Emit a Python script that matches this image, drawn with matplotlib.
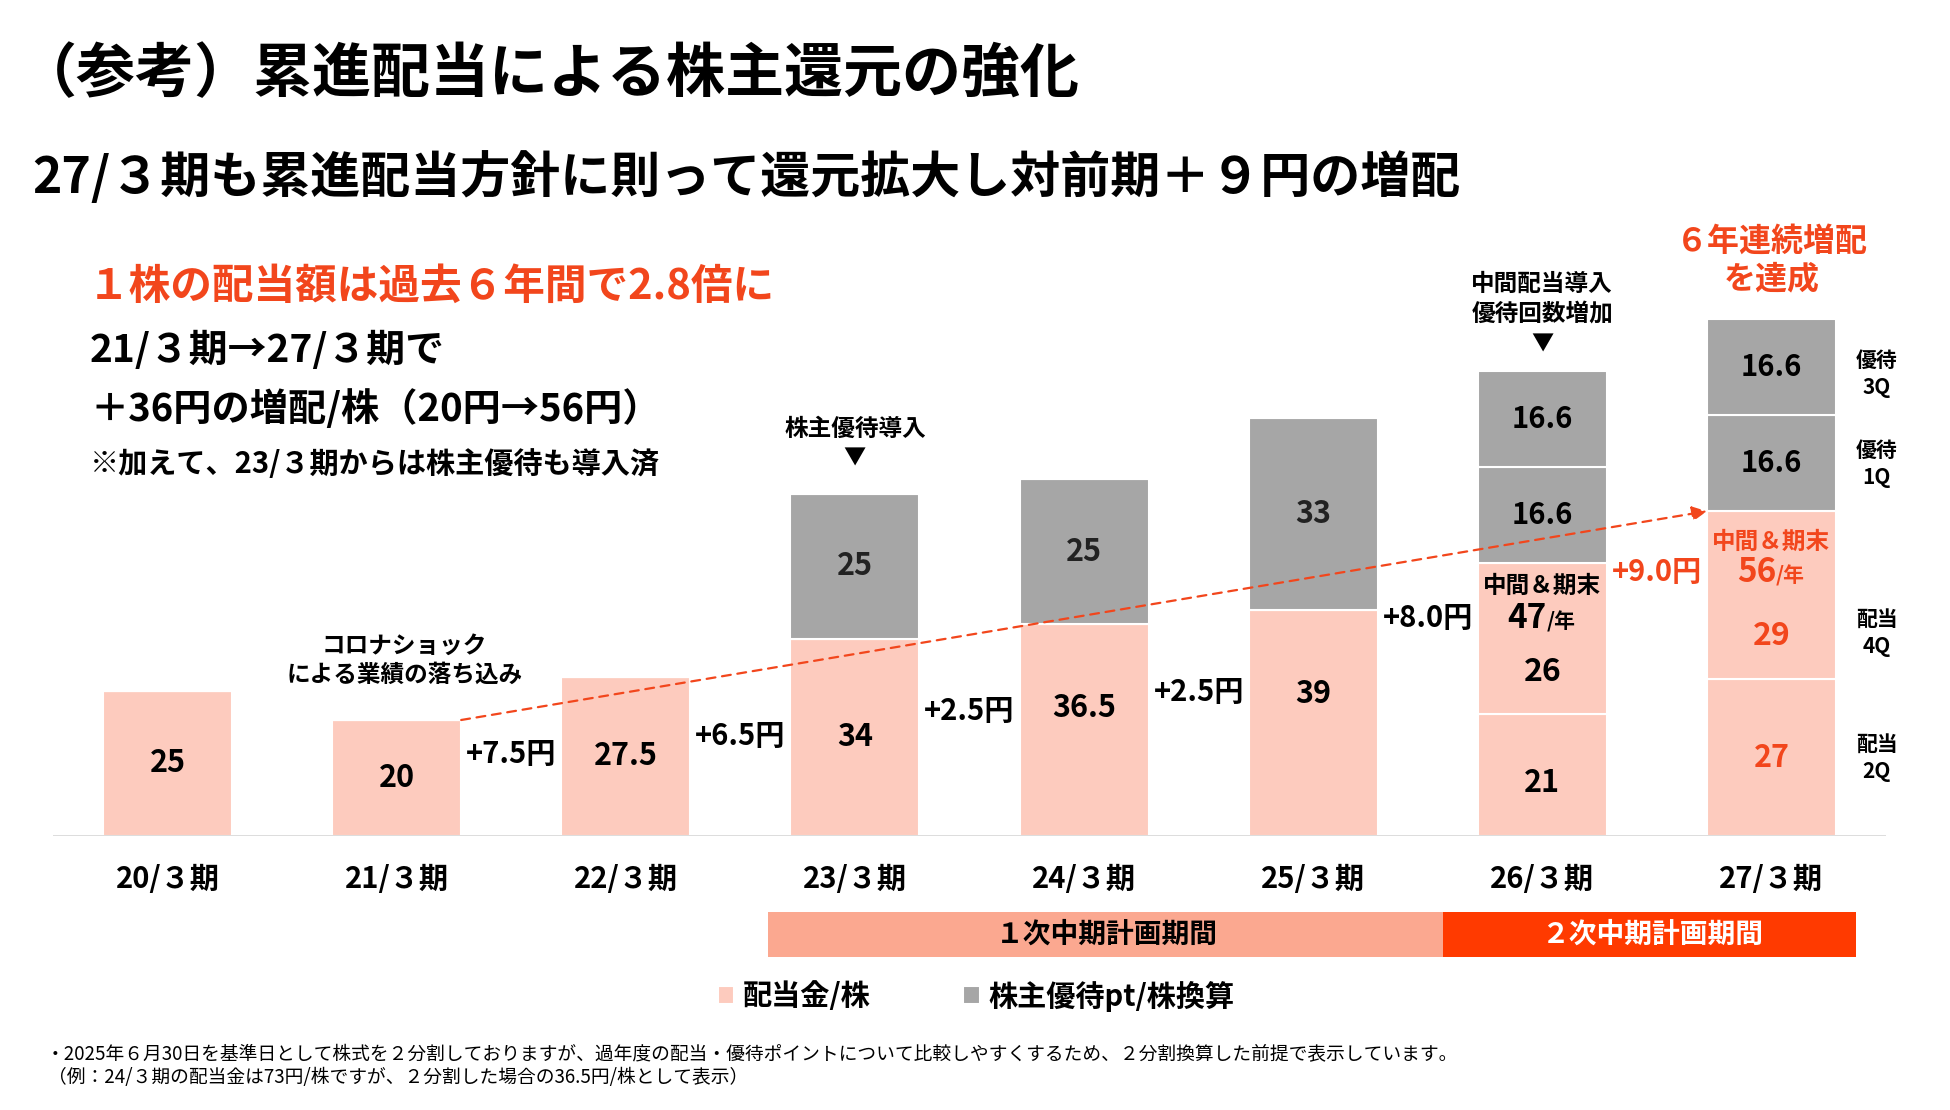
import matplotlib
matplotlib.use("Agg")
import matplotlib.pyplot as plt
from matplotlib.patches import Rectangle
import numpy as np

plt.rcParams['font.family'] = ['Noto Sans CJK JP', 'DejaVu Sans']
plt.rcParams['font.weight'] = 'bold'

# ---- data (円/株, 2分割換算) ----
periods = ["20/３期", "21/３期", "22/３期", "23/３期", "24/３期", "25/３期", "26/３期", "27/３期"]
div_2q = np.array([25, 20, 27.5, 34, 36.5, 39, 21, 27])   # 通期 (〜25/3) / 中間
div_4q = np.array([0, 0, 0, 0, 0, 0, 26, 29])             # 期末
yutai_1 = np.array([0, 0, 0, 25, 25, 33, 16.6, 16.6])
yutai_2 = np.array([0, 0, 0, 0, 0, 0, 16.6, 16.6])
div_total = div_2q + div_4q

PINK = "#FDCBBE"
GRAY = "#A6A6A6"
RED = "#F2461C"
BAND1 = "#FBA890"
BAND2 = "#FF3A00"

W, H = 1950, 1110
def fx(p): return p / W
def fy(p): return 1 - p / H

fig = plt.figure(figsize=(19.5, 11.1), dpi=100)
ax = fig.add_axes([53 / W, (H - 836) / H, 1833 / W, 640 / H])

x = np.arange(len(periods))
bw = 0.563
kw = dict(width=bw, edgecolor="white", linewidth=1.5)
ax.bar(x, div_2q, color=PINK, label="配当金/株", **kw)
ax.bar(x, div_4q, bottom=div_2q, color=PINK, **kw)
ax.bar(x, yutai_1, bottom=div_total, color=GRAY, label="株主優待pt/株換算", **kw)
ax.bar(x, yutai_2, bottom=div_total + yutai_1, color=GRAY, **kw)
ax.axhline(0, color="#D9D9D9", lw=2, zorder=5)

ax.set_xlim(-0.5, 7.5)
ax.set_ylim(0, 640 / 5.8)
for s in ax.spines.values():
    s.set_visible(False)
ax.set_yticks([])
ax.set_xticks(x, periods, fontsize=21, fontweight='bold')
ax.tick_params(axis='x', length=0, pad=20)

# ---- labels inside bars ----
lbl_2q_y = [12.5, 10, 13.75, 17, 22.1, 24.4, 9.2, 13.5]
for i in range(len(x)):
    c = RED if i == 7 else "black"
    ax.text(x[i], lbl_2q_y[i], f"{div_2q[i]:g}", ha='center', va='center', fontsize=22, color=c)
for i, yy in [(6, 28.3), (7, 34.4)]:
    c = RED if i == 7 else "black"
    ax.text(x[i], yy, f"{div_4q[i]:g}", ha='center', va='center', fontsize=23, color=c)
for i in range(len(x)):
    if yutai_1[i] > 0:
        ax.text(x[i], div_total[i] + yutai_1[i] / 2, f"{yutai_1[i]:g}", ha='center', va='center',
                fontsize=22 if yutai_2[i] == 0 else 21, color="#222222" if yutai_2[i] == 0 else "black")
    if yutai_2[i] > 0:
        ax.text(x[i], div_total[i] + yutai_1[i] + yutai_2[i] / 2, f"{yutai_2[i]:g}",
                ha='center', va='center', fontsize=21)

# 中間＆期末 totals
for i, yy_head, yy_val in [(6, 43.2, 37.5), (7, 50.7, 45.4)]:
    c = RED if i == 7 else "black"
    ax.text(x[i], yy_head, "中間＆期末", ha='center', va='center', fontsize=17, color=c)
    ax.text(x[i] + 0.02, yy_val, f"{div_total[i]:g}", ha='right', va='center', fontsize=24, color=c)
    ax.text(x[i] + 0.02, yy_val - 0.6, "/年", ha='left', va='center', fontsize=15, color=c)

# increments between bars
inc_y = [14.1, 17.3, 21.6, 24.8, 37.5, 45.6]
for k, i in enumerate(range(1, 7)):
    d = div_total[i + 1] - div_total[i]
    c = RED if i == 6 else "black"
    ax.text(i + 0.5, inc_y[k], f"+{d:.1f}円", ha='center', va='center', fontsize=21, color=c)

# dashed trend arrow 21/3 -> 27/3
ax.annotate("", xy=(7 - bw / 2, div_total[7]), xytext=(1 + bw / 2, div_total[1]),
            arrowprops=dict(arrowstyle='-|>', color=RED, lw=1.6, linestyle=(0, (4, 3)),
                            mutation_scale=22, shrinkA=0, shrinkB=0))

# annotations above bars
ax.text(1.035, 30.3, "コロナショック\nによる業績の落ち込み", ha='center', va='center',
        fontsize=17, linespacing=1.3)
ax.text(3, 70.2, "株主優待導入", ha='center', va='center', fontsize=17)
ax.text(3, 65.2, "▼", ha='center', va='center', fontsize=16)
ax.text(6, 92.6, "中間配当導入\n優待回数増加", ha='center', va='center', fontsize=17, linespacing=1.3)
ax.text(6, 84.9, "▼", ha='center', va='center', fontsize=16)
ax.text(7, 99.2, "６年連続増配\nを達成", ha='center', va='center', fontsize=23, color=RED,
        linespacing=1.2)

# right-side quarter labels
side = [("優待\n3Q", 79.7), ("優待\n1Q", 64.1), ("配当\n4Q", 35.0), ("配当\n2Q", 13.5)]
for s, yy in side:
    ax.text(7.46, yy, s, ha='center', va='center', fontsize=15, linespacing=1.35, clip_on=False)

# 中期計画 bands
ax.add_patch(Rectangle((2.62, -20.9), 5.567 - 2.62, 7.8, color=BAND1, clip_on=False, lw=0))
ax.add_patch(Rectangle((5.567, -20.9), 7.37 - 5.567, 7.8, color=BAND2, clip_on=False, lw=0))
ax.text(4.10, -17.0, "１次中期計画期間", ha='center', va='center', fontsize=20, clip_on=False)
ax.text(6.48, -17.0, "２次中期計画期間", ha='center', va='center', fontsize=20, color="white",
        clip_on=False)

# legend
h, l = ax.get_legend_handles_labels()
fig.legend(h, l, loc='center', bbox_to_anchor=(fx(976), fy(996)), ncol=2, frameon=False,
           prop={'size': 21, 'weight': 'bold'}, handlelength=0.55, handleheight=0.55,
           handletextpad=0.3, columnspacing=3.2)

# header texts
fig.text(fx(18), fy(75), "（参考）累進配当による株主還元の強化", fontsize=42.5, va='center')
fig.text(fx(32), fy(178), "27/３期も累進配当方針に則って還元拡大し対前期＋９円の増配", fontsize=36, va='center')
fig.text(fx(88), fy(287), "１株の配当額は過去６年間で2.8倍に", fontsize=30, color=RED, va='center')
fig.text(fx(90), fy(350), "21/３期→27/３期で", fontsize=28, va='center')
fig.text(fx(90), fy(409), "＋36円の増配/株（20円→56円）", fontsize=27.5, va='center')
fig.text(fx(90), fy(464), "※加えて、23/３期からは株主優待も導入済", fontsize=21, va='center')

# footnotes
fig.text(fx(46), fy(1055), "・2025年６月30日を基準日として株式を２分割しておりますが、過年度の配当・優待ポイントについて比較しやすくするため、２分割換算した前提で表示しています。",
         fontsize=13.5, fontweight='normal', va='center')
fig.text(fx(48), fy(1078), "（例：24/３期の配当金は73円/株ですが、２分割した場合の36.5円/株として表示）",
         fontsize=13.5, fontweight='normal', va='center')

fig.savefig("out.png", dpi=100, facecolor="white")
